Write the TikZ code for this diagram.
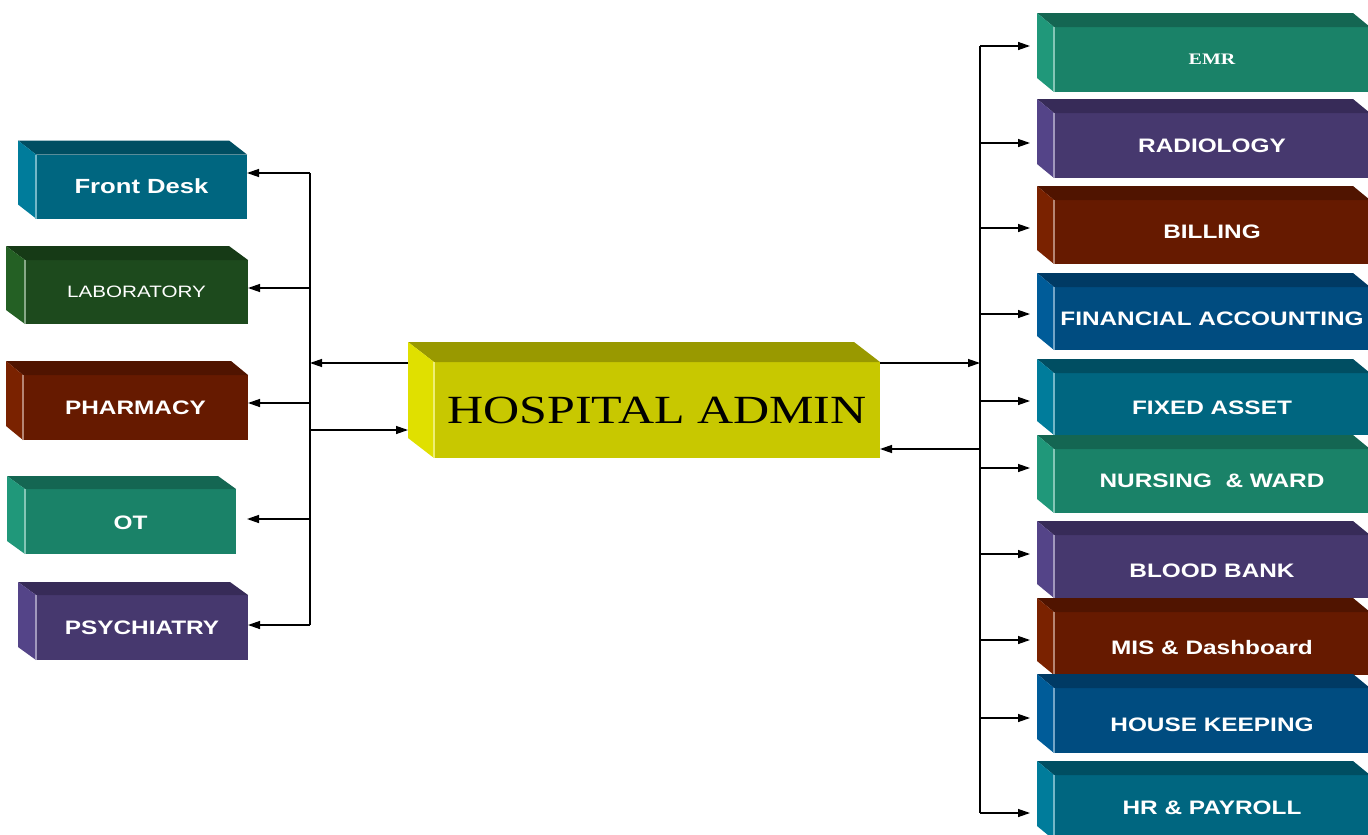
\documentclass[tikz,border=0pt]{standalone}
\usepackage{fontspec}
\usetikzlibrary{arrows.meta}
\newfontfamily\boxsans{Liberation Sans}[FakeStretch=1.25]
\newfontfamily\boxserif{Liberation Serif}[FakeStretch=1.25]
% front / top / side shades of each block colour
\definecolor{cyanbF}{RGB}{0,102,128}\definecolor{cyanbT}{RGB}{0,78,98}\definecolor{cyanbS}{RGB}{0,124,155}
\definecolor{jadeF}{RGB}{26,130,104}\definecolor{jadeT}{RGB}{20,102,82}\definecolor{jadeS}{RGB}{32,152,122}
\definecolor{mossF}{RGB}{29,74,29}\definecolor{mossT}{RGB}{22,58,22}\definecolor{mossS}{RGB}{36,96,36}
\definecolor{rustF}{RGB}{102,26,0}\definecolor{rustT}{RGB}{80,20,0}\definecolor{rustS}{RGB}{122,34,0}
\definecolor{plumF}{RGB}{70,56,110}\definecolor{plumT}{RGB}{55,43,88}\definecolor{plumS}{RGB}{84,68,136}
\definecolor{navyF}{RGB}{0,76,128}\definecolor{navyT}{RGB}{0,58,100}\definecolor{navyS}{RGB}{0,92,153}
\definecolor{oliveF}{RGB}{200,200,0}\definecolor{oliveT}{RGB}{153,153,0}\definecolor{oliveS}{RGB}{224,224,0}
\newcommand\low[2][4pt]{\raisebox{-#1}[\height][\depth]{#2}}
\tikzset{
  box/.style={rectangle, inner sep=0pt, outer sep=0pt, fill=#1F, text=white,
    font=\boxsans\bfseries\fontsize{19.5}{20}\selectfont},
  lbox/.style={box=#1, minimum width=211pt, minimum height=64pt},
  rbox/.style={box=#1, minimum width=316pt, minimum height=64pt},
  arr/.style={-{Triangle[length=12pt,width=8pt]}, line width=1.3pt},
}
\begin{document}
\begin{tikzpicture}[x=1pt,y=-1pt]
  \useasboundingbox (0,0) rectangle (1368,835);
  \clip (0,0) rectangle (1368,835);
  % centre
  \node [box=olive, minimum width=446pt, minimum height=96pt, text=black,
    font=\boxserif\fontsize{40}{42}\selectfont] (admin) at (657,410) {HOSPITAL ADMIN};
  % left column
  \node [lbox=cyanb, font=\boxsans\bfseries\fontsize{20.5}{21}\selectfont] (desk) at (141.5,186.5) {Front Desk};
  \node [lbox=moss, minimum width=223pt, font=\boxsans\fontsize{16.5}{18}\selectfont] (lab) at (136.5,292) {LABORATORY};
  \node [lbox=rust, minimum width=225pt, minimum height=65pt] (phar) at (135.5,407.5) {PHARMACY};
  \node [lbox=jade, minimum height=65pt] (ot) at (130.5,521.5) {\low[1.5pt]{OT}};
  \node [lbox=plum, minimum width=212pt, minimum height=65pt] (psy) at (142,627.5) {PSYCHIATRY};
  % right column
  \node [rbox=jade, minimum height=65pt, font=\boxserif\bfseries\fontsize{16}{18}\selectfont] (emr) at (1212,59.5) {EMR};
  \node [rbox=plum, minimum height=65pt] (rad) at (1212,145.5) {RADIOLOGY};
  \node [rbox=rust] (bill) at (1212,232) {BILLING};
  \node [rbox=navy, minimum height=63pt] (fin) at (1212,318.5) {FINANCIAL ACCOUNTING};
  \node [rbox=cyanb, minimum height=62pt] (fix) at (1212,404) {\low{FIXED ASSET}};
  \node [rbox=jade] (nurs) at (1212,481) {NURSING\ \ \& WARD};
  \node [rbox=plum, minimum height=63pt] (blood) at (1212,566.5) {\low{BLOOD BANK}};
  \node [rbox=rust, minimum height=63pt] (mis) at (1212,643.5) {\low{MIS \& Dashboard}};
  \node [rbox=navy, minimum height=65pt] (house) at (1212,720.5) {\low{HOUSE KEEPING}};
  \node [rbox=cyanb, minimum height=65pt] (hr) at (1212,807.5) {HR \& PAYROLL};
  % top and side faces
  \foreach \n/\col/\dx/\dy in {admin/olive/-26/-20, desk/cyanb/-18/-14, lab/moss/-19/-14,
      phar/rust/-17/-14, ot/jade/-18/-13, psy/plum/-18/-13, emr/jade/-17/-14, rad/plum/-17/-14,
      bill/rust/-17/-14, fin/navy/-17/-14, fix/cyanb/-17/-14, nurs/jade/-17/-14,
      blood/plum/-17/-14, mis/rust/-17/-14, house/navy/-17/-14, hr/cyanb/-17/-14} {
    \fill [\col T] (\n.north west) -- ++(\dx,\dy) -- ([shift={(\dx,\dy)}]\n.north east) -- (\n.north east) -- cycle;
    \fill [\col S] (\n.north west) -- ++(\dx,\dy) -- ([shift={(\dx,\dy)}]\n.south west) -- (\n.south west) -- cycle;
    \draw [\col S!55!white, line width=1.2pt] (\n.north west) -- (\n.south west);
  }
  % left connectors
  \coordinate (ltop) at (310,173);
  \coordinate (lbot) at (310,625);
  \draw [line width=1.3pt] (ltop) -- (lbot);
  \foreach \n/\y in {desk/173, lab/288, phar/403, psy/625}
    \draw [arr] (310,\y) -- (\n.east |- 0,\y);
  \draw [arr] (310,519) -- ([xshift=11pt]ot.east |- 0,519);
  \draw [arr] ([xshift=-26pt]admin.west |- 0,363) -- (ltop |- 0,363);
  \draw [arr] (310,430) -- ([xshift=-26pt]admin.west |- 0,430);
  % right connectors
  \coordinate (rtop) at (980,46);
  \coordinate (rbot) at (980,813);
  \draw [line width=1.3pt] (rtop) -- (rbot);
  \foreach \n/\y in {emr/46, rad/143, bill/228, fin/314, fix/401, nurs/468,
      blood/554, mis/640, house/718, hr/813}
    \draw [arr] (980,\y) -- ([xshift=-24pt]\n.west |- 0,\y);
  \draw [arr] (admin.east |- 0,363) -- (rtop |- 0,363);
  \draw [arr] (980,449) -- (admin.east |- 0,449);
\end{tikzpicture}
\end{document}
